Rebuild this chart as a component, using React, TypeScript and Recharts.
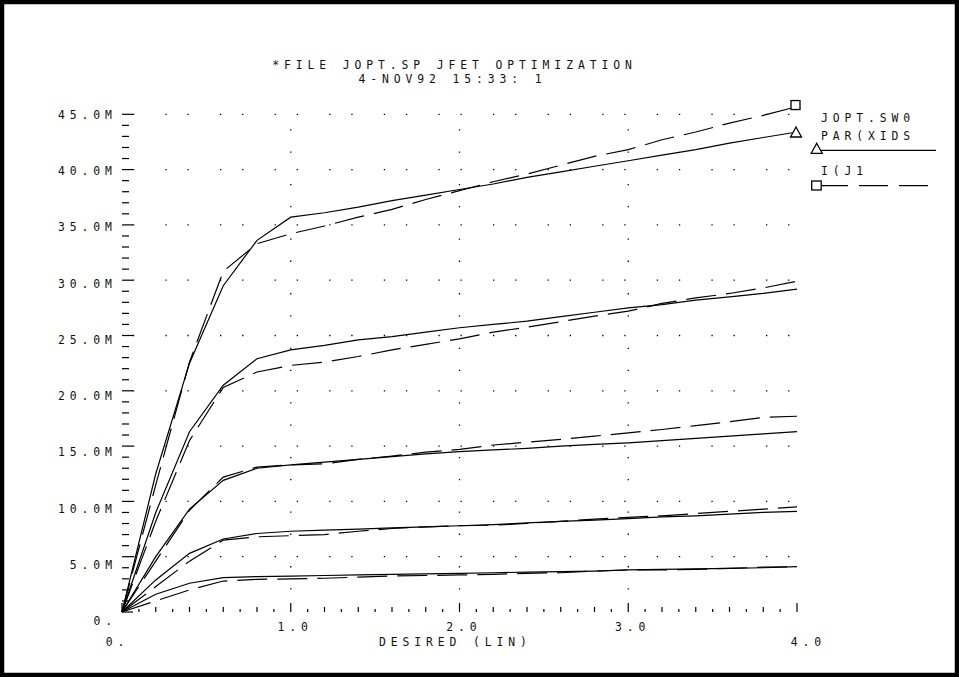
import { Line, LineChart, ReferenceLine, XAxis, YAxis } from 'recharts';

// x samples of the sweep (DESIRED)
const xValues = [0, 0.2, 0.4, 0.6, 0.8, 1.0, 1.2, 1.4, 1.6, 1.8, 2.0, 2.2, 2.4, 2.6, 2.8, 3.0, 3.2, 3.4, 3.6, 3.8, 4.0];

// PAR(XIDS) - solid, values in mA
const solid1 = [0, 12.5, 22.5, 29.5, 33.6, 35.7, 36.1, 36.6, 37.2, 37.7, 38.2, 38.7, 39.3, 39.8, 40.3, 40.8, 41.3, 41.8, 42.4, 42.9, 43.4];
const solid2 = [0, 9.0, 16.3, 20.5, 22.9, 23.7, 24.1, 24.6, 24.9, 25.3, 25.7, 26.0, 26.3, 26.7, 27.1, 27.5, 27.8, 28.2, 28.5, 28.8, 29.2];
const solid3 = [0, 5.0, 9.3, 11.9, 13.0, 13.3, 13.55, 13.8, 14.05, 14.3, 14.5, 14.65, 14.8, 15.0, 15.15, 15.3, 15.5, 15.7, 15.9, 16.1, 16.3];
const solid4 = [0, 2.9, 5.3, 6.6, 7.1, 7.3, 7.4, 7.5, 7.6, 7.7, 7.8, 7.9, 8.05, 8.2, 8.3, 8.45, 8.6, 8.7, 8.85, 9.0, 9.1];
const solid5 = [0, 1.6, 2.6, 3.1, 3.2, 3.25, 3.3, 3.35, 3.4, 3.45, 3.5, 3.55, 3.6, 3.65, 3.7, 3.8, 3.85, 3.9, 3.95, 4.0, 4.1];

// I(J1 - dashed
const dashed1 = [0, 11.5, 22.6, 30.8, 33.3, 34.2, 34.9, 35.7, 36.4, 37.3, 38.1, 38.9, 39.6, 40.4, 41.2, 41.8, 42.7, 43.4, 44.2, 44.9, 45.7];
const dashed2 = [0, 8.2, 15.5, 20.3, 21.7, 22.3, 22.6, 23.1, 23.7, 24.2, 24.7, 25.3, 25.75, 26.25, 26.75, 27.2, 27.9, 28.4, 28.8, 29.3, 29.9];
const dashed3 = [0, 4.6, 9.2, 12.2, 13.1, 13.3, 13.4, 13.8, 14.1, 14.45, 14.7, 15.1, 15.35, 15.6, 15.9, 16.2, 16.5, 16.85, 17.2, 17.6, 17.7];
const dashed4 = [0, 2.3, 4.6, 6.5, 6.8, 6.9, 7.0, 7.3, 7.55, 7.7, 7.8, 7.85, 8.0, 8.2, 8.4, 8.55, 8.7, 8.9, 9.1, 9.3, 9.5];
const dashed5 = [0, 1.0, 2.0, 2.8, 2.95, 3.0, 3.05, 3.15, 3.25, 3.3, 3.35, 3.4, 3.5, 3.55, 3.7, 3.8, 3.8, 3.85, 3.95, 4.05, 4.1];

const yLabelValues = [0, 5, 10, 15, 20, 25, 30, 35, 40, 45];
const yLabelText = ['0.', '5.0M', '10.0M', '15.0M', '20.0M', '25.0M', '30.0M', '35.0M', '40.0M', '45.0M'];
const xLabelValues = [0, 1, 2, 3, 4];
const xLabelText = ['0.', '1.0', '2.0', '3.0', '4.0'];
const gridY = [5, 10, 15, 20, 25, 30, 35, 40, 45];
const gridX = [1, 2, 3];

const yTicks = Array.from({ length: 46 }, (_, i) => i);
const xTicks = Array.from({ length: 41 }, (_, i) => i / 10);

const rows = xValues.map((x, i) => ({
  x,
  s1: solid1[i], s2: solid2[i], s3: solid3[i], s4: solid4[i], s5: solid5[i],
  d1: dashed1[i], d2: dashed2[i], d3: dashed3[i], d4: dashed4[i], d5: dashed5[i],
}));

const FONT = '"DejaVu Sans Mono", "Liberation Mono", monospace';
const LS = 4.9;
const textStyle = { fontFamily: FONT, fontSize: 11.4, letterSpacing: LS, fill: '#111' };
const lastIndex = xValues.length - 1;

// plot edges (match chart margins below)
const LEFT = 122;
const RIGHT = 797;
const BOTTOM = 612;

function LeftTick(props: any) {
  const { y, payload } = props;
  const v = payload.value;
  const major = v % 5 === 0;
  const li = yLabelValues.indexOf(v);
  const x = LEFT;
  return (
    <g>
      <line x1={x} x2={x + (major ? 11 : 7)} y1={y} y2={y} stroke="#000" strokeWidth={1.2} />
      {li >= 0 && (
        <text x={x - 10 + LS} y={y + 13.4 - 0.2 * v} textAnchor="end" style={textStyle}>
          {yLabelText[li]}
        </text>
      )}
    </g>
  );
}

function RightTick(props: any) {
  const { y, payload } = props;
  const major = payload.value % 5 === 0;
  return <line x1={RIGHT} x2={RIGHT - (major ? 12 : 5)} y1={y} y2={y} stroke="#000" strokeWidth={1.2} />;
}

function BottomTick(props: any) {
  const { x, payload } = props;
  const y = BOTTOM;
  const t = Math.round(payload.value * 10);
  const len = t % 10 === 0 ? 9 : t % 2 === 0 ? 5 : 3;
  const li = xLabelValues.indexOf(t / 10);
  const low = t === 0 || t === 40;
  const dx = t === 0 ? -7 : t === 40 ? 9 : 2;
  return (
    <g>
      <line x1={x} x2={x} y1={y} y2={y - len} stroke="#000" strokeWidth={1.2} />
      {li >= 0 && (
        <text x={x + dx + LS / 2} y={y + (low ? 34 : 19)} textAnchor="middle" style={textStyle}>
          {xLabelText[li]}
        </text>
      )}
    </g>
  );
}

const triangleAt = (cx: number, cy: number) =>
  `${cx},${cy - 5} ${cx - 5.5},${cy + 5} ${cx + 5.5},${cy + 5}`;

function EndTriangle(p: any) {
  if (p.index !== lastIndex) return <g key={p.index} />;
  return <polygon key={p.index} points={triangleAt(p.cx - 1, p.cy)} fill="#fff" stroke="#000" strokeWidth={1.3} />;
}

function EndSquare(p: any) {
  if (p.index !== lastIndex) return <g key={p.index} />;
  return <rect key={p.index} x={p.cx - 6} y={p.cy - 6} width={9} height={9} fill="#fff" stroke="#000" strokeWidth={1.3} />;
}

const solidKeys = ['s1', 's2', 's3', 's4', 's5'];
const dashedKeys = ['d1', 'd2', 'd3', 'd4', 'd5'];

export default function App() {
  return (
    <div
      style={{
        position: 'absolute', left: 0, top: 0, width: 959, height: 677, background: '#fff',
      }}
    >
      <LineChart
        width={959}
        height={677}
        data={rows}
        margin={{ top: 106, right: 152, bottom: 55, left: 112 }}
        style={{ position: 'absolute', left: 0, top: 0 }}
      >
        <XAxis
          type="number"
          dataKey="x"
          domain={[0, 4]}
          ticks={xTicks}
          interval={0}
          height={10}
          axisLine={false}
          tickLine={false}
          tick={(p: any) => <BottomTick key={p.index} {...p} />}
        />
        <YAxis
          type="number"
          domain={[0, 45.75]}
          ticks={yTicks}
          interval={0}
          width={10}
          axisLine={false}
          tickLine={false}
          tick={(p: any) => <LeftTick key={p.index} {...p} />}
        />
        <YAxis
          yAxisId="r"
          orientation="right"
          type="number"
          domain={[0, 45.75]}
          ticks={yTicks}
          interval={0}
          width={10}
          axisLine={false}
          tickLine={false}
          tick={(p: any) => <RightTick key={p.index} {...p} />}
        />
        {gridY.map((v) => (
          <ReferenceLine key={'gy' + v} y={v} stroke="#000" strokeWidth={1.3} strokeDasharray="1.3 31.2 1.3 20.8" strokeDashoffset={43.7} />
        ))}
        {gridX.map((v) => (
          <ReferenceLine key={'gx' + v} x={v} stroke="#000" strokeWidth={1.3} strokeDasharray="1.3 31.2 1.3 20.8" strokeDashoffset={10} />
        ))}
        {solidKeys.map((k, i) => (
          <Line
            key={k}
            type="linear"
            dataKey={k}
            stroke="#000"
            strokeWidth={1.2}
            dot={i === 0 ? EndTriangle : false}
            activeDot={false}
            isAnimationActive={false}
          />
        ))}
        {dashedKeys.map((k, i) => (
          <Line
            key={k}
            type="linear"
            dataKey={k}
            stroke="#000"
            strokeWidth={1.2}
            strokeDasharray="30 10"
            dot={i === 0 ? EndSquare : false}
            activeDot={false}
            isAnimationActive={false}
          />
        ))}
      </LineChart>
      <svg width={959} height={677} style={{ position: 'absolute', left: 0, top: 0, pointerEvents: 'none' }}>
        <text x={452 + LS / 2} y={69} textAnchor="middle" style={textStyle}>*FILE JOPT.SP JFET OPTIMIZATION</text>
        <text x={450 + LS / 2} y={83} textAnchor="middle" style={textStyle}>{'4-NOV92  15:33: 1'}</text>
        <text x={453 + LS / 2} y={646} textAnchor="middle" style={textStyle}>DESIRED (LIN)</text>
        <text x={821} y={122} style={textStyle}>JOPT.SW0</text>
        <text x={821} y={139.5} style={textStyle}>PAR(XIDS</text>
        <line x1={820} x2={936} y1={150.3} y2={150.3} stroke="#000" strokeWidth={1.2} />
        <polygon points={triangleAt(816.7, 148.3)} fill="#fff" stroke="#000" strokeWidth={1.3} />
        <text x={821} y={175} style={textStyle}>I(J1</text>
        <line x1={819} x2={936} y1={185.7} y2={185.7} stroke="#000" strokeWidth={1.2} strokeDasharray="29 11" />
        <rect x={811.7} y={181} width={9.5} height={9} fill="#fff" stroke="#000" strokeWidth={1.3} />
        <rect x={2} y={2} width={955} height={673} fill="none" stroke="#000" strokeWidth={4.5} />
      </svg>
    </div>
  );
}
